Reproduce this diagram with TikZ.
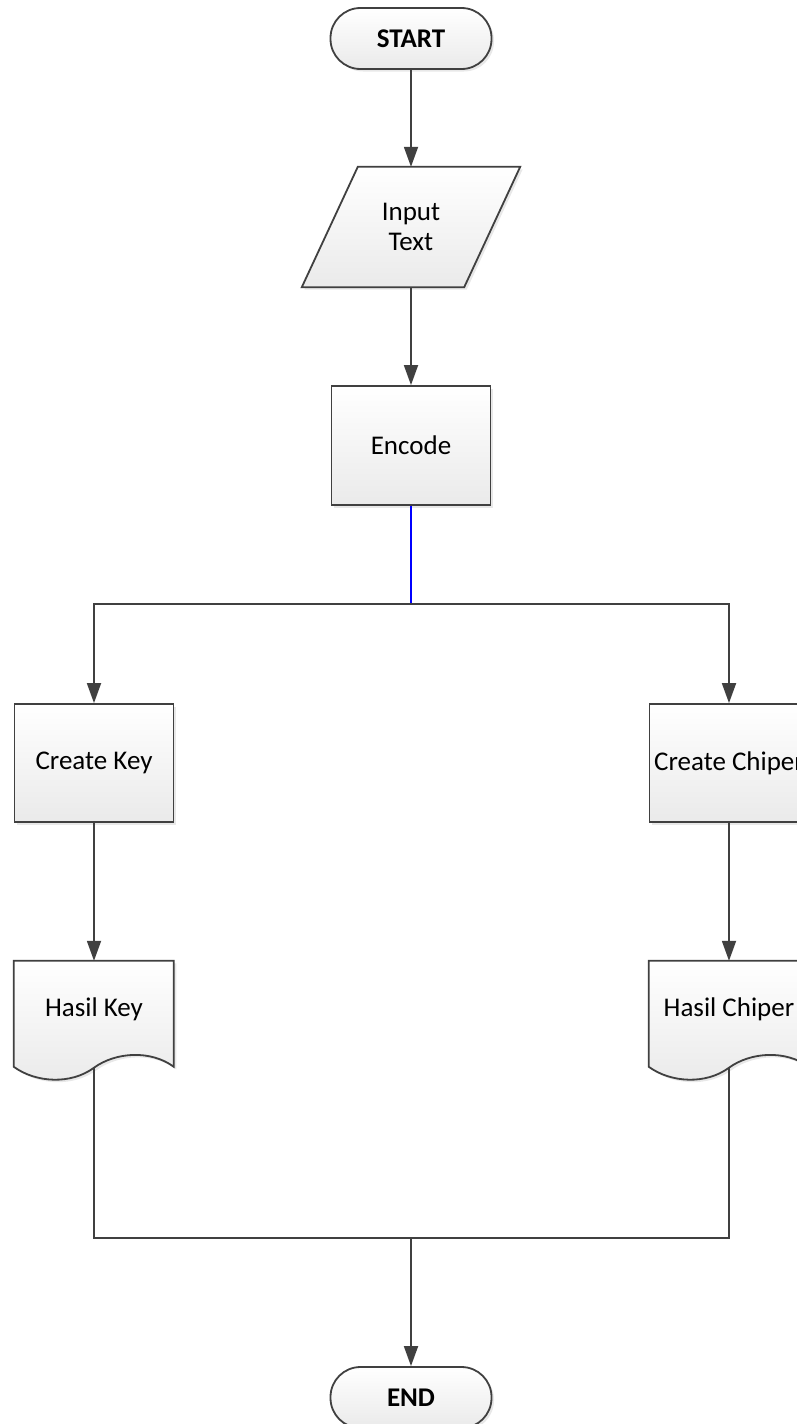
\documentclass[tikz,border=0pt]{standalone}
\usepackage{fontspec}
\setmainfont{Carlito}
\usetikzlibrary{arrows.meta,shadows,calc,backgrounds}
\definecolor{linegray}{HTML}{404040}
\definecolor{fillgray}{HTML}{EAEAEA}
\tikzset{
  paint/.style={draw=linegray, line width=1.8pt, top color=white, bottom color=fillgray,
    drop shadow={shadow xshift=2.5pt, shadow yshift=-2.5pt, opacity=0.18}},
  txt/.style={inner sep=0pt, align=center, text=black, font=\fontsize{27}{30}\selectfont},
  terminal/.style={paint, txt, rounded corners=30pt, minimum width=161pt, minimum height=61pt,
    font=\bfseries\fontsize{27}{30}\selectfont},
  process/.style={paint, txt, minimum width=159pt, minimum height=119pt},
  ghost/.style={txt, draw=none},
  link/.style={draw=linegray, line width=1.8pt},
  flow/.style={link, -{Triangle[length=20pt,width=14pt]}},
}
\begin{document}
\begin{tikzpicture}[x=1pt,y=1pt]
\useasboundingbox (0,0) rectangle (797,-1424);

% main column
\node[terminal] (start) at (411,-38.5) {START};
\node[ghost, minimum width=162pt, minimum height=120pt] (inp) at (411,-227) {Input\\Text};
\node[process] (enc) at (411,-445.5) {Encode};
\coordinate (split) at (411,-604);

% two branches
\node[process, minimum height=118pt] (ck) at (94,-763) {Create Key};
\node[process, minimum height=118pt] (cc) at (729,-763) {Create Chiper};
\node[ghost, minimum width=160pt, minimum height=96pt] (hk) at (94,-1009) {Hasil Key};
\node[ghost, minimum width=160pt, minimum height=96pt] (hc) at (729,-1009) {Hasil Chiper};
\coordinate (hk-out) at ($(hk.north west)+(80,-107)$);
\coordinate (hc-out) at ($(hc.north west)+(80,-107)$);
\coordinate (join) at (411,-1238);
\node[terminal] (end) at (411,-1397.5) {END};

% outlines of the input parallelogram and the two document shapes
\begin{scope}[on background layer]
  \path[paint] ($(inp.north west)+(28,0)$) -- ($(inp.north east)+(28,0)$)
    -- ($(inp.south east)+(-28,0)$) -- ($(inp.south west)+(-28,0)$) -- cycle;
  \foreach \n in {hk,hc}{
    \path[paint] (\n.north west) -- ($(\n.north west)+(160,0)$) -- ($(\n.north west)+(160,-106)$)
      .. controls ($(\n.north west)+(137,-89)$) and ($(\n.north west)+(102,-91)$) .. ($(\n.north west)+(80,-107)$)
      .. controls ($(\n.north west)+(57,-124)$) and ($(\n.north west)+(22,-122)$) .. ($(\n.north west)+(0,-106)$)
      -- cycle;
  }
\end{scope}

% connectors
\draw[flow] (start) -- (inp);
\draw[flow] (inp) -- (enc);
\draw[line width=1.8pt, draw=blue] (enc.south) -- (split);
\draw[flow] (split) -| (ck.north);
\draw[flow] (split) -| (cc.north);
\draw[flow] (ck) -- (hk);
\draw[flow] (cc) -- (hc);
\draw[link] (hk-out) |- (join);
\draw[link] (hc-out) |- (join);
\draw[flow] (join) -- (end);
\end{tikzpicture}
\end{document}
